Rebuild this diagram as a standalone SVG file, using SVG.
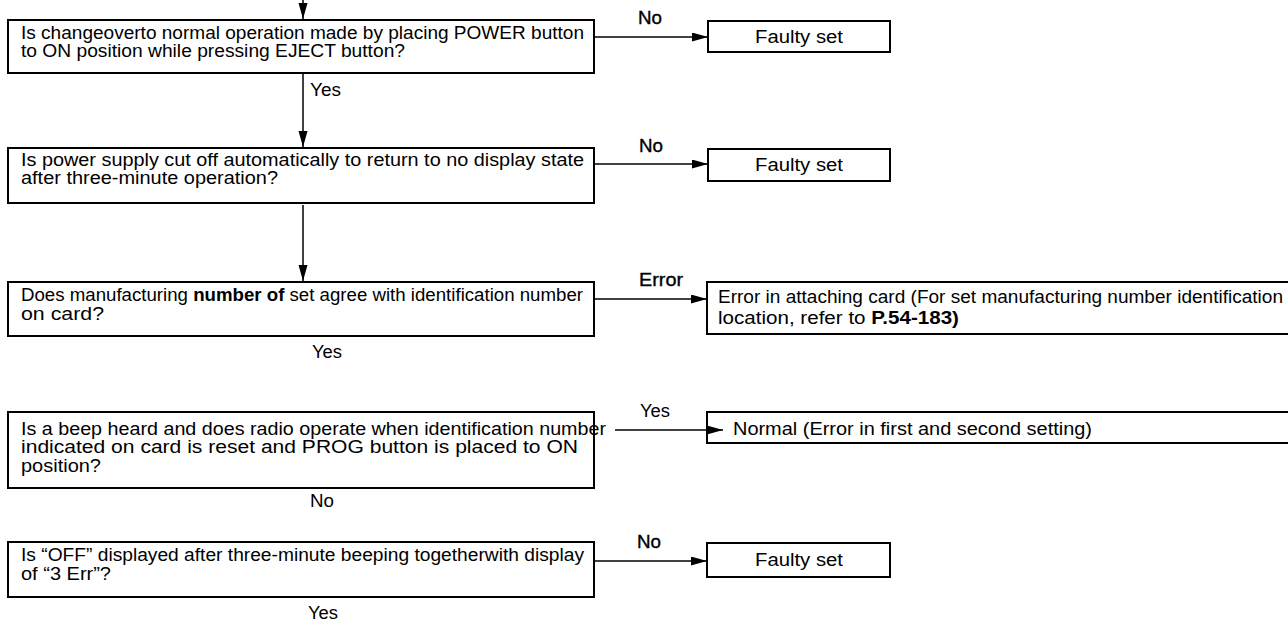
<svg xmlns="http://www.w3.org/2000/svg" width="1288" height="622" viewBox="0 0 1288 622">
<style>
.t{font-family:"Liberation Sans",Arial,sans-serif;font-size:17.5px;fill:#000}
.lb{font-family:"Liberation Sans",Arial,sans-serif;font-size:17.5px;fill:#000;stroke:#000;stroke-width:0.35}
.box{fill:#fff;stroke:#000;stroke-width:2}
.c{stroke:#000;stroke-width:1.5;fill:none}
</style>
<defs>
<marker id="ah" markerUnits="userSpaceOnUse" markerWidth="17" markerHeight="10" refX="16" refY="4.5" orient="auto">
<path d="M0,0 L16,4.5 L0,9 z" fill="#000"/>
</marker>
</defs>
<rect width="1288" height="622" fill="#fff"/>

<g id="q1">
<rect class="box" x="8" y="20" width="586" height="53"/>
<text class="t" x="21" y="39" textLength="563" lengthAdjust="spacingAndGlyphs">Is changeoverto normal operation made by placing POWER button</text>
<text class="t" x="21" y="57" textLength="384" lengthAdjust="spacingAndGlyphs">to ON position while pressing EJECT button?</text>
</g>
<g id="f1">
<rect class="box" x="708" y="21" width="182" height="31"/>
<text class="t" x="755" y="43" textLength="88" lengthAdjust="spacingAndGlyphs">Faulty set</text>
</g>

<g id="q2">
<rect class="box" x="8" y="148" width="586" height="55"/>
<text class="t" x="21" y="166" textLength="563" lengthAdjust="spacingAndGlyphs">Is power supply cut off automatically to return to no display state</text>
<text class="t" x="21" y="184" textLength="257" lengthAdjust="spacingAndGlyphs">after  three-minute  operation?</text>
</g>
<g id="f2">
<rect class="box" x="708" y="149" width="182" height="32"/>
<text class="t" x="755" y="171" textLength="88" lengthAdjust="spacingAndGlyphs">Faulty set</text>
</g>

<g id="q3">
<rect class="box" x="8" y="282" width="586" height="54"/>
<text class="t" x="21" y="301" textLength="562" lengthAdjust="spacingAndGlyphs">Does manufacturing <tspan font-weight="bold">number of</tspan> set agree with identification number</text>
<text class="t" x="21" y="320" textLength="83" lengthAdjust="spacingAndGlyphs">on  card?</text>
</g>
<g id="e3">
<rect class="box" x="707" y="282" width="590" height="52"/>
<text class="t" x="718" y="303" textLength="565" lengthAdjust="spacingAndGlyphs">Error in attaching card (For set manufacturing number identification</text>
<text class="t" x="718" y="324" textLength="241" lengthAdjust="spacingAndGlyphs">location, refer to <tspan font-weight="bold">P.54-183)</tspan></text>
</g>

<g id="q4">
<rect class="box" x="8" y="412" width="586" height="76"/>
<text class="t" x="21" y="435" textLength="585" lengthAdjust="spacingAndGlyphs">Is a beep heard and does radio operate when identification number</text>
<text class="t" x="21" y="453" textLength="557" lengthAdjust="spacingAndGlyphs">indicated on card is reset and PROG button is placed to ON</text>
<text class="t" x="21" y="472" textLength="80" lengthAdjust="spacingAndGlyphs">position?</text>
</g>
<g id="n4">
<rect class="box" x="707" y="412" width="590" height="31"/>
<text class="t" x="733" y="435" textLength="359" lengthAdjust="spacingAndGlyphs">Normal (Error in first and second setting)</text>
</g>

<g id="q5">
<rect class="box" x="8" y="542" width="586" height="55"/>
<text class="t" x="21" y="561" textLength="563" lengthAdjust="spacingAndGlyphs">Is “OFF” displayed after three-minute beeping togetherwith display</text>
<text class="t" x="21" y="580" textLength="90" lengthAdjust="spacingAndGlyphs">of “3 Err”?</text>
</g>
<g id="f5">
<rect class="box" x="707" y="543" width="183" height="34"/>
<text class="t" x="755" y="566" textLength="88" lengthAdjust="spacingAndGlyphs">Faulty set</text>
</g>

<g id="connectors">
<line class="c" x1="303" y1="0" x2="303" y2="19" marker-end="url(#ah)"/>
<line class="c" x1="303" y1="73" x2="303" y2="147" marker-end="url(#ah)"/>
<line class="c" x1="303" y1="205" x2="303" y2="281" marker-end="url(#ah)"/>
<line class="c" x1="594" y1="37" x2="708" y2="37" marker-end="url(#ah)"/>
<line class="c" x1="594" y1="164" x2="708" y2="164" marker-end="url(#ah)"/>
<line class="c" x1="594" y1="299" x2="707" y2="299" marker-end="url(#ah)"/>
<line class="c" x1="615" y1="430" x2="723" y2="430" marker-end="url(#ah)"/>
<line class="c" x1="594" y1="561" x2="707" y2="561" marker-end="url(#ah)"/>
<text class="t" x="310" y="96" textLength="31" lengthAdjust="spacingAndGlyphs">Yes</text>
<text class="lb" x="638" y="24" textLength="24" lengthAdjust="spacingAndGlyphs">No</text>
<text class="lb" x="639" y="152" textLength="24" lengthAdjust="spacingAndGlyphs">No</text>
<text class="lb" x="639" y="286" textLength="44" lengthAdjust="spacingAndGlyphs">Error</text>
<text class="t" x="312" y="358" textLength="30" lengthAdjust="spacingAndGlyphs">Yes</text>
<text class="t" x="640" y="417" textLength="30" lengthAdjust="spacingAndGlyphs">Yes</text>
<text class="t" x="310" y="507" textLength="24" lengthAdjust="spacingAndGlyphs">No</text>
<text class="lb" x="637" y="548" textLength="24" lengthAdjust="spacingAndGlyphs">No</text>
<text class="t" x="308" y="619" textLength="30" lengthAdjust="spacingAndGlyphs">Yes</text>
</g>
</svg>
